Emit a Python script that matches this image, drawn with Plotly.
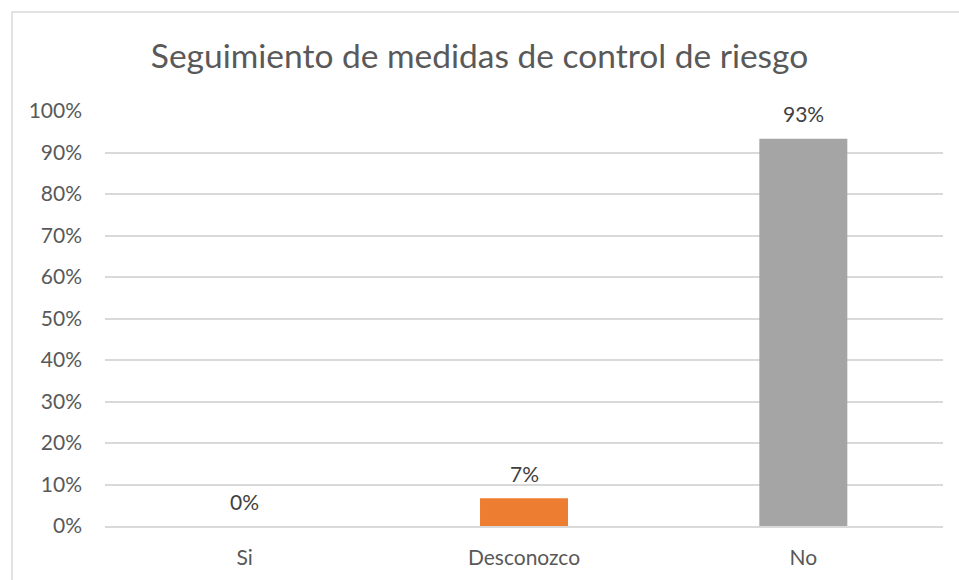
import plotly.graph_objects as go

categories = ["Si", "Desconozco", "No"]
values = [0.0, 0.0667, 0.9333]
labels = ["0%", "7%", "93%"]
colors = ["#4472C4", "#ED7D31", "#A5A5A5"]
title_text = "Seguimiento de medidas de control de riesgo"
tick_vals = [i / 10 for i in range(11)]
tick_text = [f"{i * 10}%" for i in range(11)]

FONT = "Lato, Calibri, Carlito, sans-serif"

fig = go.Figure()
fig.add_trace(go.Bar(
    x=categories, y=values,
    marker=dict(color=colors, line=dict(width=0)),
    hoverinfo="skip",
))

for c, v, t in zip(categories, values, labels):
    fig.add_annotation(
        x=c, y=v, text=t, showarrow=False,
        xref="x", yref="y", yanchor="middle", yshift=25,
        font=dict(family=FONT, size=21, color="#404040"),
    )

W, H = 959, 580
L, R, T, B = 105, 16, 111, 53.5
pw = W - L - R
ph = H - T - B
# chart border (only top and left visible in the frame)
fig.add_shape(
    type="rect", xref="paper", yref="paper",
    x0=(12 - L) / pw, x1=2, y0=-1, y1=(H - B - 12) / ph,
    line=dict(color="#D9D9D9", width=1.5), fillcolor="rgba(0,0,0,0)", layer="below",
)

fig.update_layout(
    width=W, height=H,
    margin=dict(l=L, r=R, t=T, b=B, pad=0, autoexpand=False),
    paper_bgcolor="white", plot_bgcolor="white",
    showlegend=False,
    bargap=0.685,
    title=dict(
        text=title_text, x=0.5, xanchor="center",
        y=1 - 56 / H, yanchor="middle", yref="container",
        font=dict(family=FONT, size=33.5, color="#595959"),
    ),
    font=dict(family=FONT, size=21, color="#595959"),
)
fig.update_yaxes(
    range=[0, 1], tickvals=tick_vals, ticktext=tick_text,
    showgrid=True, gridcolor="#D9D9D9", gridwidth=1.5,
    zeroline=False, showline=False, ticks="",
    ticklabelstandoff=22, automargin=False,
    tickfont=dict(family=FONT, size=21, color="#595959"),
    fixedrange=True,
)
fig.update_xaxes(
    showline=True, linecolor="#D9D9D9", linewidth=1.5,
    ticks="", showgrid=False,
    ticklabelstandoff=12, automargin=False,
    tickfont=dict(family=FONT, size=21, color="#595959"),
    fixedrange=True,
)

fig.write_html(
    "out.html",
    config={"displayModeBar": False},
    post_script="document.body.style.margin='0';document.body.style.overflow='hidden';",
)
